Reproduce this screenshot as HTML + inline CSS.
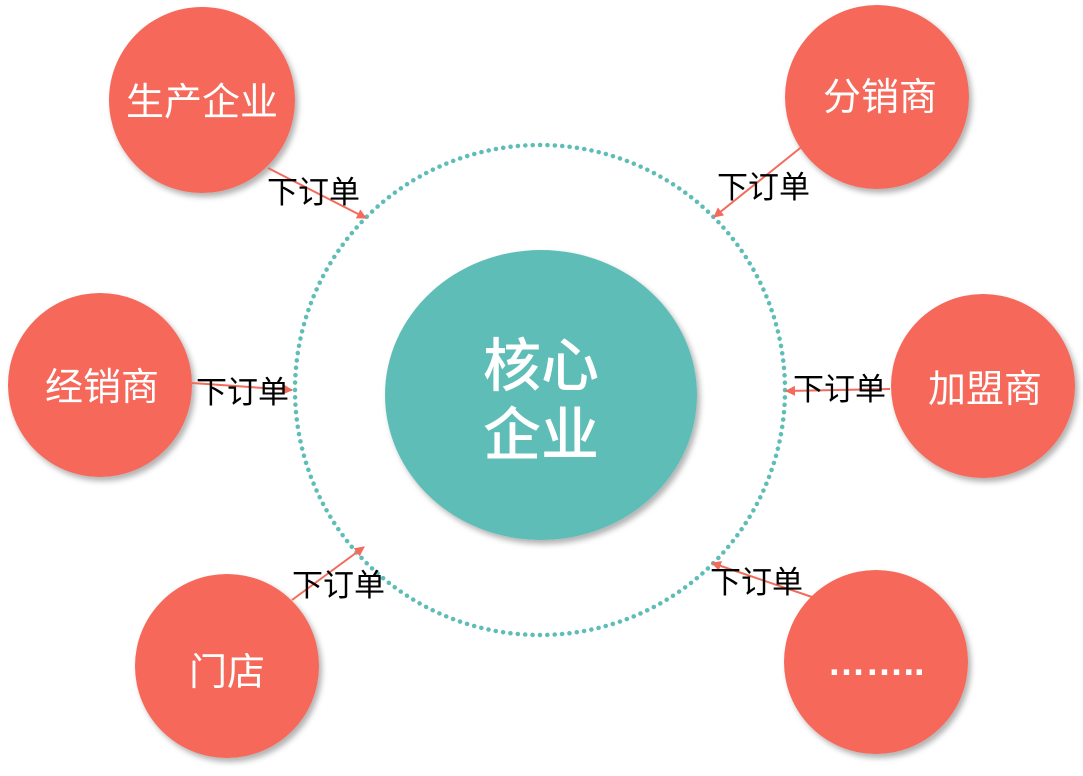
<!DOCTYPE html>
<html><head><meta charset="utf-8"><style>
body{margin:0;background:#fff;}
svg text{font-family:"Liberation Sans","Noto Sans CJK SC",sans-serif;}
</style></head><body>
<svg width="1083" height="771" viewBox="0 0 1083 771" xmlns="http://www.w3.org/2000/svg">
<defs>
<filter id="sh" x="-20%" y="-20%" width="150%" height="150%"><feDropShadow dx="3" dy="4" stdDeviation="3" flood-color="#000" flood-opacity="0.3"/></filter>
<marker id="ah" markerWidth="10" markerHeight="10" refX="9" refY="5" orient="auto" markerUnits="userSpaceOnUse"><path d="M0,0 L10,5 L0,10 z" fill="#f26b5b"/></marker>
</defs>
<circle cx="540" cy="390" r="245" fill="none" stroke="#5fbdb7" stroke-width="4.5" stroke-dasharray="0.1 7.3" stroke-linecap="round"/>
<ellipse cx="541" cy="395" rx="156" ry="145" fill="#5fbdb7" filter="url(#sh)"/>
<text x="541" y="386" font-size="58" fill="#fff" text-anchor="middle" font-weight="500">核心</text>
<text x="541" y="455" font-size="58" fill="#fff" text-anchor="middle" font-weight="500">企业</text>
<g fill="#f5685a" filter="url(#sh)">
<circle cx="202" cy="100" r="93"/>
<circle cx="877" cy="97" r="92"/>
<circle cx="100" cy="385" r="92"/>
<circle cx="983" cy="386" r="92"/>
<circle cx="227" cy="666" r="92"/>
<circle cx="876" cy="662" r="92"/>
</g>
<g fill="#fff" font-size="38" text-anchor="middle">
<text x="202" y="115">生产企业</text>
<text x="880" y="110">分销商</text>
<text x="102" y="400">经销商</text>
<text x="985" y="402">加盟商</text>
<text x="227" y="685">门店</text>
<text x="876" y="675" font-weight="bold">……..</text>
</g>
<g stroke="#f26b5b" stroke-width="2" marker-end="url(#ah)">
<line x1="268" y1="168" x2="366" y2="218"/>
<line x1="814" y1="137" x2="714" y2="217"/>
<line x1="192" y1="383" x2="292" y2="390"/>
<line x1="890" y1="389" x2="786" y2="391"/>
<line x1="292" y1="600" x2="364" y2="547"/>
<line x1="812" y1="597" x2="712" y2="563"/>
</g>
<g fill="#000" font-size="31">
<text x="267" y="203">下订单</text>
<text x="717" y="198">下订单</text>
<text x="196" y="403">下订单</text>
<text x="793" y="400">下订单</text>
<text x="292" y="596">下订单</text>
<text x="710" y="593">下订单</text>
</g>
</svg>
</body></html>
